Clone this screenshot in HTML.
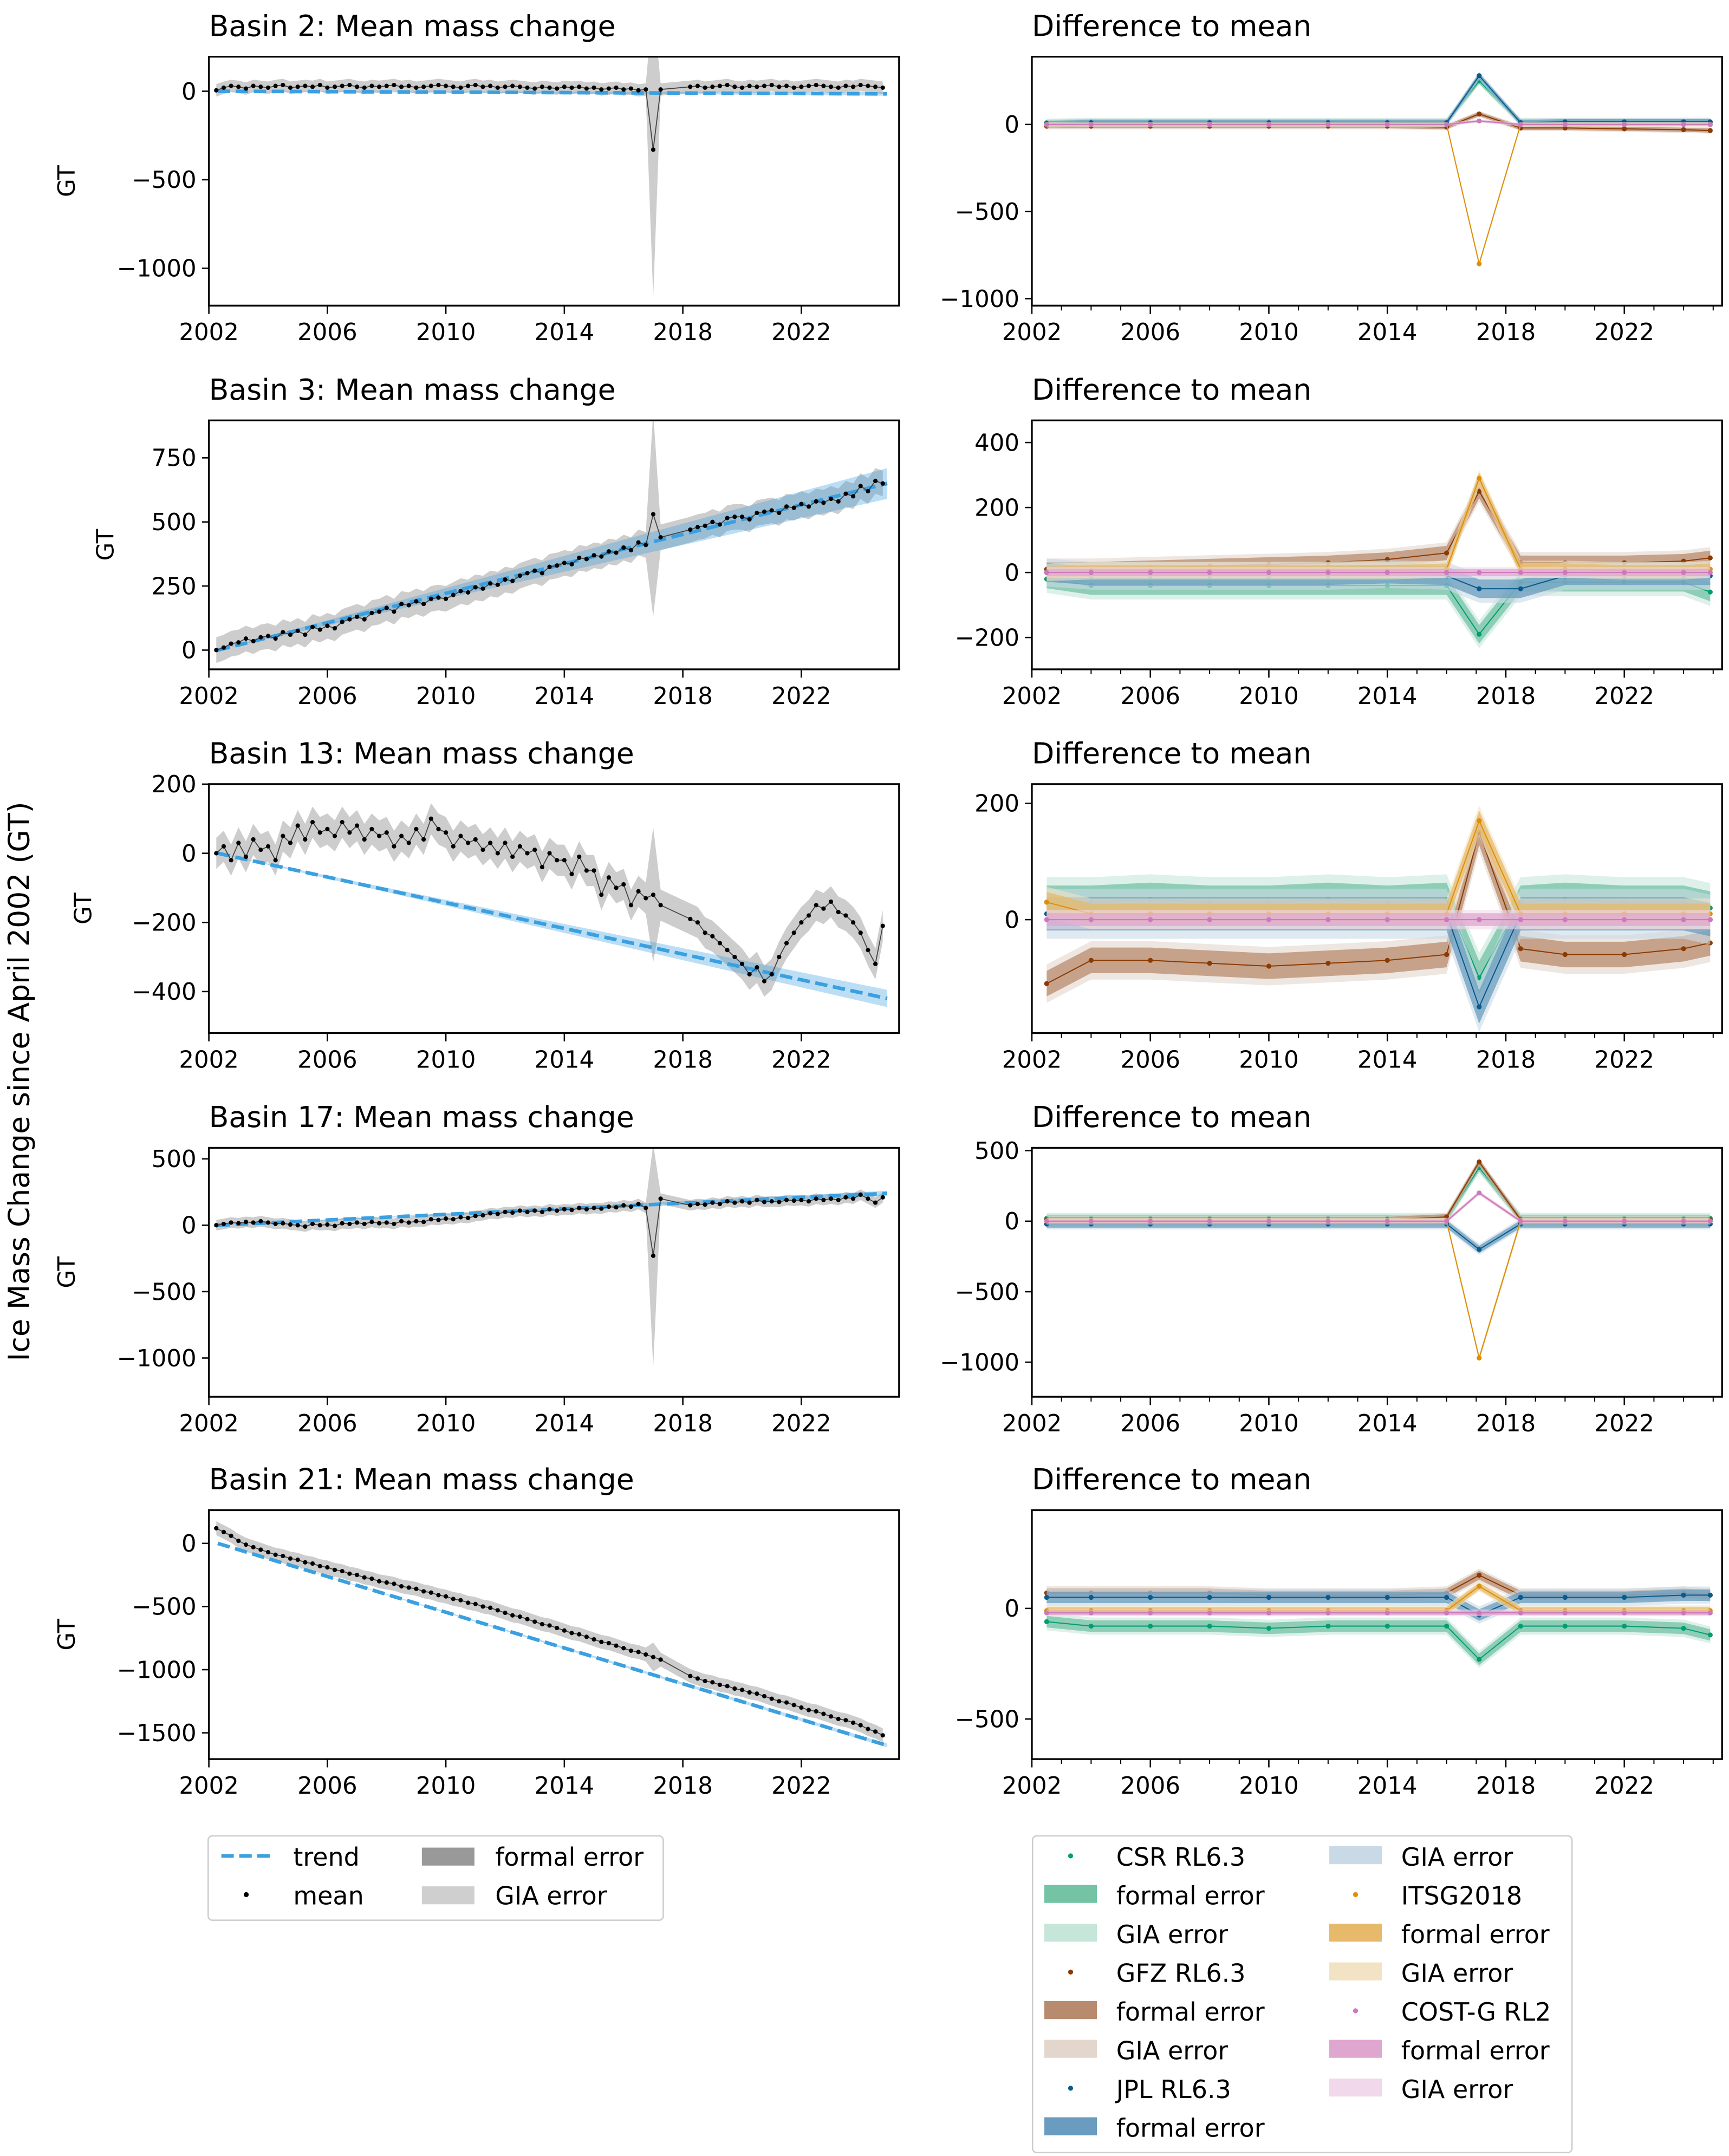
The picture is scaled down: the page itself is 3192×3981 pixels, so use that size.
<!DOCTYPE html>
<html><head><meta charset="utf-8">
<style>
html,body{margin:0;padding:0;background:#fff;}
svg{display:block;font-family:"DejaVu Sans","Liberation Sans",sans-serif;}
</style></head>
<body>
<svg id="fig" width="3192" height="3981" viewBox="0 0 1250 1559" xmlns="http://www.w3.org/2000/svg">
<rect x="0" y="0" width="1250" height="1559" fill="#fff"/>
<text x="0" y="0" transform="translate(21,782) rotate(-90)" text-anchor="middle" font-size="21">Ice Mass Change since April 2002 (GT)</text>
<g id="plots"></g>
<g>
<rect x="150.5" y="1327.5" width="329" height="61" rx="3" fill="#fff" stroke="#ccc"/>
<line x1="160" y1="1342" x2="196" y2="1342" stroke="#3ba0e0" stroke-width="2.6" stroke-dasharray="9,4"/>
<text x="212" y="1349" font-size="18">trend</text>
<circle cx="178" cy="1370" r="1.8" fill="#000"/>
<text x="212" y="1377" font-size="18">mean</text>
<rect x="305" y="1336" width="38" height="13" fill="#999"/>
<text x="358" y="1349" font-size="18">formal error</text>
<rect x="305" y="1364" width="38" height="13" fill="#cfcfcf"/>
<text x="358" y="1377" font-size="18">GIA error</text>
</g>
<g id="legend2">
<rect x="746.5" y="1327.5" width="390" height="229" rx="3" fill="#fff" stroke="#ccc"/>
</g>
</svg>
<script>
// ---------- data ----------
const years = [2002,2006,2010,2014,2018,2022];
const meanStart = 2002.25, meanStep = 0.25;
const spikeIdx = 59;
const basinNames = ["Basin 2","Basin 3","Basin 13","Basin 17","Basin 21"];
const mean2 = [5,20,30, 25,15,30,25, 20,30,35,20, 25,30,25,35, 20,25,30,35, 25,20,30,25, 30,35,25,30, 20,25,30,35, 30,25,20,30, 35,25,30,20, 25,30,25,20, 15,25,20,15, 25,20,25,15, 20,10,15,20, 10,15,5,10, -330,10,null,null, null,25,30,20, 25,30,35,25, 20,30,25,30, 35,25,30,20, 25,30,35,30, 25,20,30,25, 35,30,25,20];
const mean3 = [0,10,25, 30,45,35,50, 55,45,70,60, 75,60,90,80, 95,85,110,120, 130,120,145,150, 165,150,180,175, 190,180,200,205, 200,215,230,225, 245,240,260,255, 275,270,290,300, 310,300,325,330, 340,335,360,355, 370,365,385,380, 400,390,420,410, 530,440,null,null, null,470,480,485, 500,490,515,520, 520,510,535,540, 545,535,560,555, 570,560,580,575, 590,580,610,600, 640,620,660,650];
const mean13 = [0,20,-20, 30,-10,40,10, 20,-20,50,30, 80,40,90,60, 70,50,90,60, 80,40,70,50, 60,20,50,30, 70,40,100,70, 60,20,50,30, 40,10,30,0, 30,-10,20,0, 10,-40,0,-20, -20,-60,-10,-50, -50,-120,-70,-100, -90,-150,-110,-130, -120,-150,null,null, null,-190,-200,-230, -240,-260,-280,-300, -320,-350,-330,-370, -350,-300,-260,-230, -200,-180,-150,-160, -140,-170,-180,-200, -230,-280,-320,-210];
const mean17 = [0,10,20, 15,25,20,30, 20,10,15,5, 0,-10,10,0, 5,-5,15,10, 20,10,25,15, 20,10,30,20, 30,25,45,40, 50,45,60,55, 70,75,90,85, 100,95,110,100, 110,100,120,110, 120,115,130,120, 130,125,140,135, 150,140,160,130, -230,200,null,null, null,150,160,155, 170,160,180,170, 180,170,190,175, 180,175,190,185, 190,180,200,190, 200,190,210,200, 230,200,170,210];
const mean21 = [120,90,60, 20,-10,-30,-50, -70,-90,-100,-120, -130,-150,-160,-180, -190,-210,-220,-240, -250,-270,-280,-300, -310,-320,-340,-350, -360,-380,-390,-410, -420,-440,-450,-470, -480,-500,-510,-530, -550,-570,-580,-600, -620,-640,-650,-670, -690,-710,-720,-740, -760,-780,-790,-810, -830,-850,-860,-880, -900,-920,null,null, null,-1050,-1070,-1090, -1100,-1120,-1130,-1150, -1160,-1180,-1190,-1210, -1230,-1250,-1260,-1280, -1300,-1320,-1330,-1350, -1370,-1390,-1400,-1420, -1440,-1470,-1490,-1520];
const trendEnd = [-15, 650, -420, 240, -1600];
const trendBand = [10, 60, 25, 20, 15];
const giaErr = [35, 50, 45, 40, 55];
const spikeErr = [800, 350, 150, 800, 60];

const diffTimes = [2002.5,2004,2006,2008,2010,2012,2014,2016,2017.1,2018.5,2020,2022,2024,2024.9];
const centers = ["CSR RL6.3","GFZ RL6.3","JPL RL6.3","ITSG2018","COST-G RL2"];
const d2_csr=[10,15,15,15,15,15,15,15,250,15,15,15,15,15];
const d2_gfz=[-10,-10,-10,-10,-10,-10,-10,-15,60,-20,-20,-25,-30,-35];
const d2_jpl=[5,10,10,10,10,10,10,10,280,10,15,15,15,15];
const d2_itsg=[0,0,0,0,0,0,0,0,-800,0,0,0,0,0];
const d2_cost=[0,0,0,0,0,0,0,0,20,0,0,0,0,0];
const d3_csr=[-20,-40,-40,-40,-40,-40,-40,-40,-190,-30,-30,-30,-30,-60];
const d3_gfz=[10,10,15,20,25,30,40,60,250,30,30,30,35,45];
const d3_jpl=[0,-10,-10,-10,-10,-10,-5,-10,-50,-50,-10,-10,-10,-10];
const d3_itsg=[0,5,5,5,5,5,5,10,290,10,10,5,5,10];
const d3_cost=[0,0,0,0,0,0,0,0,0,0,0,0,0,0];
const d13_csr=[30,30,35,30,30,35,30,35,-100,30,35,30,30,20];
const d13_gfz=[-110,-70,-70,-75,-80,-75,-70,-60,150,-50,-60,-60,-50,-40];
const d13_jpl=[10,10,10,10,10,10,10,10,-150,10,10,10,10,0];
const d13_itsg=[30,10,10,10,10,10,10,10,170,10,10,10,10,10];
const d13_cost=[0,0,0,0,0,0,0,0,0,0,0,0,0,0];
const d17_csr=[20,20,20,20,20,20,20,20,380,20,20,20,20,20];
const d17_gfz=[10,10,10,10,10,10,10,30,420,10,10,10,10,10];
const d17_jpl=[-20,-20,-20,-20,-20,-20,-20,-20,-200,-20,-20,-20,-20,-20];
const d17_itsg=[0,0,0,0,0,0,0,0,-970,0,0,0,0,0];
const d17_cost=[0,0,0,0,0,0,0,0,200,0,0,0,0,0];
const d21_csr=[-60,-80,-80,-80,-90,-80,-80,-80,-230,-80,-80,-80,-90,-120];
const d21_gfz=[70,70,70,70,60,60,60,70,150,60,60,60,70,60];
const d21_jpl=[50,50,50,50,50,50,50,50,-30,50,50,50,60,60];
const d21_itsg=[-10,-10,-10,-10,-10,-10,-10,-10,100,-10,-10,-10,-10,-10];
const d21_cost=[-20,-20,-20,-20,-20,-20,-20,-20,-20,-20,-20,-20,-20,-20];
const diffErr = [12, 22, 22, 20, 20];
const centerErrScale = [1.3, 1.0, 1.3, 0.8, 0.5];

const leftTicks = [[0,-500,-1000],[0,250,500,750],[200,0,-200,-400],[500,0,-500,-1000],[0,-500,-1000,-1500]];
const rightTicks = [[0,-500,-1000],[400,200,0,-200],[200,0],[500,0,-500,-1000],[0,-500]];

// ---------- layout (not data) ----------
const leftLims = [[195,-1211],[896,-75],[200,-520],[583,-1292],[263,-1708]];
const rightLims = [[389,-1040],[468,-298],[233,-195],[520,-1245],[444,-681]];
const rowTop = [41,304,567,830,1092];
const AXH = 180, LX = 151, RX = 746, AXW = 499;
const XMIN = 2002, XMAX = 2025.3;
const means = [mean2,mean3,mean13,mean17,mean21];
const diffs = [[d2_csr,d2_gfz,d2_jpl,d2_itsg,d2_cost],[d3_csr,d3_gfz,d3_jpl,d3_itsg,d3_cost],[d13_csr,d13_gfz,d13_jpl,d13_itsg,d13_cost],[d17_csr,d17_gfz,d17_jpl,d17_itsg,d17_cost],[d21_csr,d21_gfz,d21_jpl,d21_itsg,d21_cost]];
const dotCol = ["#029e73","#8b3a00","#0a5a8c","#de8f05","#cc78bc"];
const bandCol = ["#74c3a4","#b98b6e","#6a9cbf","#e6b96b","#dfa7cf"];
const giaCol = ["#c6e6da","#e3d6cc","#c9dae6","#f2e3c4","#f1d8ea"];
const NS = "http://www.w3.org/2000/svg";
const plots = document.getElementById('plots');

function mk(tag, attrs, parent){const e=document.createElementNS(NS,tag);for(const k in attrs)e.setAttribute(k,attrs[k]);(parent||plots).appendChild(e);return e;}

function axisFns(x0,top,lim){
  const xs = t => x0 + (t-XMIN)/(XMAX-XMIN)*AXW;
  const ys = v => top + (lim[0]-v)/(lim[0]-lim[1])*AXH;
  return [xs,ys];
}

function frame(g,x0,top,ticks,ys,xs,title,isLeft,r){
  const t = mk('text',{x:x0,y:top-15,'font-size':21},g);
  t.textContent = title;
  
  
  mk('rect',{x:x0,y:top,width:AXW,height:AXH,fill:'none',stroke:'#000','stroke-width':1.3},g);
  for(const v of ticks){
    const y=ys(v);
    mk('line',{x1:x0-5,y1:y,x2:x0,y2:y,stroke:'#000','stroke-width':1},g);
    const lab = mk('text',{x:x0-9,y:y+6,'font-size':17,'text-anchor':'end'},g);
    lab.textContent = v<0 ? '\u2212'+Math.abs(v) : String(v);
    
    
  }
  for(const yr of years){
    const x=xs(yr);
    mk('line',{x1:x,y1:top+AXH,x2:x,y2:top+AXH+6,stroke:'#000','stroke-width':1},g);
    const lab = mk('text',{x:x,y:top+AXH+25,'font-size':17,'text-anchor':'middle'},g);
    lab.textContent = String(yr);
    
    
  }
  if(!isLeft){
    for(let yr=2003; yr<=2025; yr++){ if(yr%4===2) continue;
      const x=xs(yr); mk('line',{x1:x,y1:top+AXH,x2:x,y2:top+AXH+3.5,stroke:'#000','stroke-width':0.8},g);}
  }
}

for(let r=0;r<5;r++){
  const top=rowTop[r];
  // ---- left panel ----
  const gL = mk('g',{});
  
  
  const [xs,ys]=axisFns(LX,top,leftLims[r]);
  const cp = mk('clipPath',{id:'cl'+r},gL); mk('rect',{x:LX,y:top,width:AXW,height:AXH},cp);
  const gd = mk('g',{'clip-path':'url(#cl'+r+')'},gL);
  const m = means[r];
  const pts=[];
  m.forEach((v,i)=>{ if(v!==null) pts.push([meanStart+i*meanStep,v,i]); });
  const errAt = p => giaErr[r] + (p[2]===spikeIdx ? spikeErr[r] : 0);
  let up=pts.map(p=>xs(p[0])+','+ys(p[1]+errAt(p)));
  let dn=pts.slice().reverse().map(p=>xs(p[0])+','+ys(p[1]-errAt(p)));
  const gia = mk('polygon',{points:up.concat(dn).join(' '),fill:'#c8c8c8','fill-opacity':0.9},gd);
  
  
  const t0=2002.3,t1=2024.9;
  const tb = mk('polygon',{points:[xs(t0)+','+ys(0),xs(t1)+','+ys(trendEnd[r]+trendBand[r]),xs(t1)+','+ys(trendEnd[r]-trendBand[r])].join(' '),fill:'#3ba0e0','fill-opacity':0.35},gd);
  
  
  const tl = mk('line',{x1:xs(t0),y1:ys(0),x2:xs(t1),y2:ys(trendEnd[r]),stroke:'#3ba0e0','stroke-width':2.6,'stroke-dasharray':'9,4'},gd);
  
  
  const ml = mk('polyline',{points:pts.map(p=>xs(p[0])+','+ys(p[1])).join(' '),fill:'none',stroke:'#444','stroke-width':0.7},gd);
  
  
  for(const p of pts){
    const c = mk('circle',{cx:xs(p[0]),cy:ys(p[1]),r:1.6,fill:'#000'},gd);
    
    
  }
  frame(gL,LX,top,leftTicks[r],ys,xs,basinNames[r]+': Mean mass change',true,r);
  const gt = mk('text',{x:0,y:0,transform:'translate('+(r===1||r===2? (r===1?82:66):54)+','+(top+AXH/2)+') rotate(-90)','font-size':17,'text-anchor':'middle'},gL);
  gt.textContent='GT';
  
  

  // ---- right panel ----
  const gR = mk('g',{});
  
  
  const [xr,yr]=axisFns(RX,top,rightLims[r]);
  const cp2 = mk('clipPath',{id:'cr'+r},gR); mk('rect',{x:RX,y:top,width:AXW,height:AXH},cp2);
  const gd2 = mk('g',{'clip-path':'url(#cr'+r+')'},gR);
  diffs[r].forEach((vals,c)=>{
    const e = diffErr[r]*centerErrScale[c];
    const up = vals.map((v,i)=>xr(diffTimes[i])+','+yr(v+e*1.5));
    const dn = vals.map((v,i)=>xr(diffTimes[i])+','+yr(v-e*1.5)).reverse();
    const g1 = mk('polygon',{points:up.concat(dn).join(' '),fill:giaCol[c],'fill-opacity':0.6},gd2);
    
    
    const up2 = vals.map((v,i)=>xr(diffTimes[i])+','+yr(v+e));
    const dn2 = vals.map((v,i)=>xr(diffTimes[i])+','+yr(v-e)).reverse();
    const b = mk('polygon',{points:up2.concat(dn2).join(' '),fill:bandCol[c],'fill-opacity':0.75},gd2);
    
    
    const l = mk('polyline',{points:vals.map((v,i)=>xr(diffTimes[i])+','+yr(v)).join(' '),fill:'none',stroke:dotCol[c],'stroke-width':0.8},gd2);
    
    
    vals.forEach((v,i)=>{
      const d = mk('circle',{cx:xr(diffTimes[i]),cy:yr(v),r:1.8,fill:dotCol[c]},gd2);
      
      
    });
  });
  frame(gR,RX,top,rightTicks[r],yr,xr,'Difference to mean',false,r);
}

// right legend
const lg = document.getElementById('legend2');
const entries=[];
centers.forEach((n,c)=>{entries.push(['dot',c,n]);entries.push(['band',c,'formal error']);entries.push(['gia',c,'GIA error']);});
entries.forEach((e,k)=>{
  const col = k<8?0:1; const row = k<8?k:k-8;
  const x0 = col===0?755:961; const y0 = 1342+row*28;
  if(e[0]==='dot') mk('circle',{cx:x0+19,cy:y0,r:1.8,fill:dotCol[e[1]]},lg);
  else mk('rect',{x:x0,y:y0-7,width:38,height:13,fill:e[0]==='band'?bandCol[e[1]]:giaCol[e[1]]},lg);
  const t = mk('text',{x:x0+52,y:y0+7,'font-size':18},lg);
  t.textContent = e[2];
  
  
});
</script>
</body></html>
